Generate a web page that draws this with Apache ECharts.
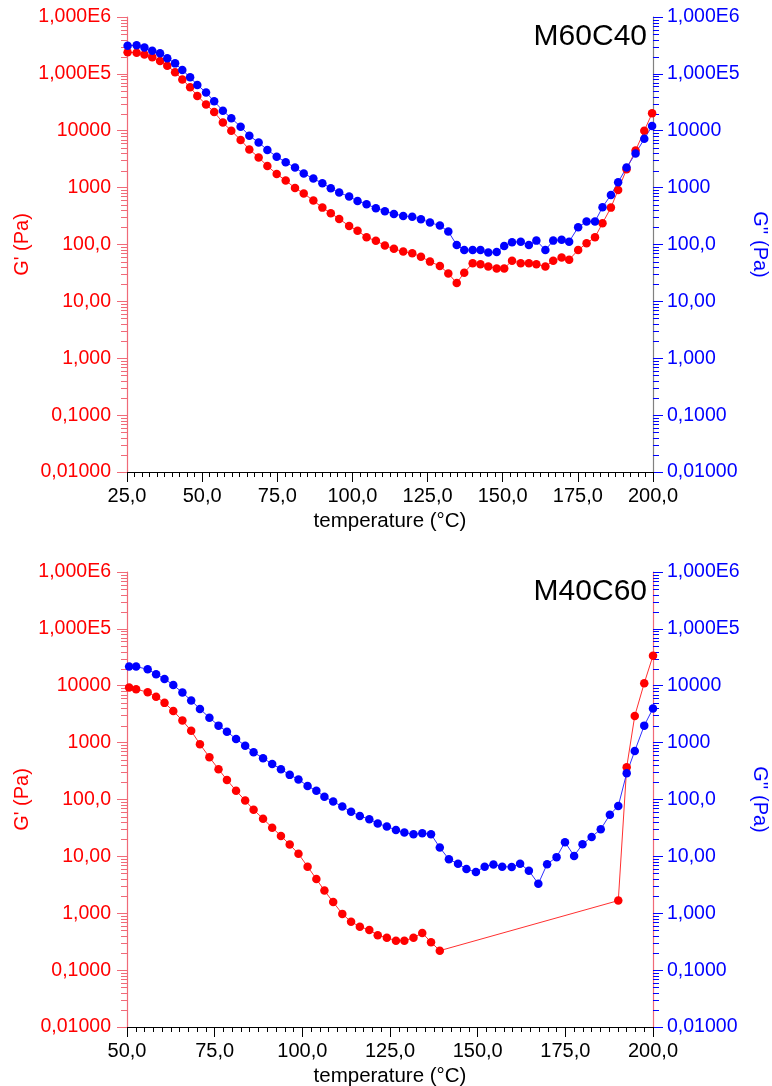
<!DOCTYPE html>
<html>
<head>
<meta charset="utf-8">
<script src="https://cdn.jsdelivr.net/npm/echarts@6/dist/echarts.min.js"></script>
<style>
  html, body { margin: 0; padding: 0; background: #fff; }
  #chart { width: 772px; height: 1086px; }
</style>
</head>
<body>
<div id="chart"></div>
<script>
// ---- M60C40: temperature sweep (°C), storage modulus G' and loss modulus G'' (Pa)
const topTemp = [25.2, 28.2, 30.8, 33.4, 36.0, 38.4, 41.0, 43.4, 46.0, 48.4, 51.3, 54.0, 56.9, 59.7, 62.8, 65.7,
  68.8, 71.7, 74.8, 77.8, 80.9, 83.8, 87.0, 90.0, 92.8, 95.6, 98.9, 101.7, 104.7, 107.8, 110.8, 113.8, 116.9,
  119.9, 122.8, 125.8, 129.1, 131.9, 134.7, 137.2, 140.0, 142.6, 145.2, 148.0, 150.5, 153.1, 156.0, 158.7,
  161.2, 164.2, 166.8, 169.6, 172.1, 175.1, 177.9, 180.7, 183.2, 186.0, 188.4, 191.2, 194.2, 197.1, 199.7];
const topGp = [240000, 236000, 220000, 196000, 169000, 139000, 107000, 80000, 58000, 41000, 29000, 21400, 13900,
  10000, 6900, 4700, 3400, 2400, 1740, 1330, 988, 790, 591, 445, 355, 282, 212, 175, 134, 116, 96, 84, 75, 70,
  61, 50, 42, 31, 21, 32, 47, 45, 41, 38, 38, 52, 47, 47, 45, 41, 52, 59, 54, 80, 105, 134, 237, 445, 912, 2100,
  4500, 10000, 20300];
const topGpp = [313000, 320000, 290000, 256000, 230000, 188000, 153000, 117000, 87000, 64000, 47000, 33000, 22500,
  16600, 11800, 8200, 6200, 4600, 3500, 2800, 2250, 1770, 1440, 1190, 975, 817, 695, 584, 511, 434, 385, 345,
  318, 309, 278, 243, 215, 169, 98, 80, 80, 80, 72, 74, 94, 110, 112, 98, 117, 80, 117, 121, 112, 201, 253,
  253, 453, 745, 1245, 2250, 4000, 7200, 12100];

// ---- M40C60
const botTempGp = [50.6, 52.6, 55.9, 58.3, 60.7, 63.2, 65.8, 68.3, 70.8, 73.5, 76.1, 78.5, 81.1, 83.7, 86.1, 88.8,
  91.4, 93.9, 96.4, 98.9, 101.5, 104.0, 106.3, 108.8, 111.4, 113.9, 116.4, 119.1, 121.5, 124.1, 126.7, 129.1,
  131.7, 134.2, 136.7, 139.2, 190.1, 192.5, 194.8, 197.5, 200.0];
const botGp = [9300, 8700, 7700, 6400, 5000, 3600, 2440, 1610, 938, 554, 341, 221, 143, 96, 66, 46, 32, 22.9,
  16.1, 11.1, 6.6, 4.0, 2.5, 1.57, 0.975, 0.71, 0.58, 0.51, 0.41, 0.37, 0.33, 0.33, 0.37, 0.45, 0.31, 0.22,
  1.67, 370, 2950, 11100, 33800];
const botTempGpp = [50.6, 52.6, 55.9, 58.3, 60.7, 63.2, 65.8, 68.3, 70.8, 73.5, 76.1, 78.5, 81.1, 83.7, 86.1, 88.8,
  91.4, 93.9, 96.4, 98.9, 101.5, 104.0, 106.3, 108.8, 111.4, 113.9, 116.4, 119.1, 121.5, 124.1, 126.7, 129.1,
  131.7, 134.2, 136.7, 139.2, 141.8, 144.4, 146.8, 149.5, 152.0, 154.5, 157.0, 159.7, 162.1, 164.6, 167.3,
  169.8, 172.5, 174.9, 177.5, 179.9, 182.5, 185.1, 187.7, 190.1, 192.5, 194.8, 197.5, 200.0];
const botGpp = [21700, 21700, 19500, 15900, 13200, 10300, 7600, 5500, 3900, 2750, 1990, 1560, 1160, 885, 678, 532,
  422, 341, 271, 225, 173, 142, 112, 92, 75, 61, 51.5, 45, 38, 33.4, 29.2, 26.2, 24.5, 25.6, 24.5, 14.3, 8.9,
  7.4, 6.0, 5.3, 6.6, 7.2, 6.6, 6.5, 7.4, 5.6, 3.3, 7.3, 9.7, 17.8, 10.2, 16.4, 22, 30, 54, 77, 290, 714,
  1990, 4000];

// ---- axis tick labels
const modulusLabels = ['0,01000', '0,1000', '1,000', '10,00', '100,0', '1000', '10000', '1,000E5', '1,000E6'];
const topTempLabels = ['25,0', '50,0', '75,0', '100,0', '125,0', '150,0', '175,0', '200,0'];
const botTempLabels = ['50,0', '75,0', '100,0', '125,0', '150,0', '175,0', '200,0'];
const titles = ['M60C40', 'M40C60'];

const FONT = "'Liberation Sans', Arial, sans-serif";
const RED = '#ff0000', BLUE = '#0000ff', PINK = '#f06a78';
const GRID_LEFT = 127, GRID_W = 526, GRID_H = 455;
const gridTops = [17, 572];

const pairs = (xs, ys) => xs.map((x, i) => [x, ys[i]]);

// decade minor ticks at 2..9 x 10^k, placed through the log axis
const minorVals = [];
for (let k = -2; k < 6; k++) for (let m = 2; m <= 9; m++) minorVals.push(m * Math.pow(10, k));

function modulusLabel(v) {
  const i = Math.round(Math.log10(v)) + 2;
  return modulusLabels[i] !== undefined ? modulusLabels[i] : '';
}

function xAxisFor(idx, min, labels) {
  return {
    type: 'value', gridIndex: idx, min: min, max: 200, interval: 25,
    axisLine: { show: true, lineStyle: { color: '#000', width: 1 } },
    axisTick: { show: true, inside: false, length: 10, lineStyle: { color: '#000' } },
    minorTick: { show: true, splitNumber: 10, length: 5, lineStyle: { color: '#000' } },
    splitLine: { show: false }, minorSplitLine: { show: false },
    axisLabel: {
      color: '#000', fontFamily: FONT, fontSize: 20, margin: 14,
      formatter: v => labels[Math.round((v - min) / 25)] || ''
    },
    name: 'temperature (°C)', nameLocation: 'middle', nameGap: 39,
    nameTextStyle: { color: '#000', fontFamily: FONT, fontSize: 20.5 }
  };
}

function yAxisFor(idx, side, rightLine) {
  const left = side === 'left';
  const col = left ? RED : BLUE;
  return {
    type: 'log', logBase: 10, gridIndex: idx, position: side, min: 0.01, max: 1e6,
    axisLine: { show: true, onZero: false, lineStyle: { color: left ? PINK : rightLine, width: 1.2 } },
    axisTick: { show: true, inside: false, length: 10, lineStyle: { color: left ? PINK : BLUE } },
    splitLine: { show: false },
    axisLabel: { color: col, fontFamily: FONT, fontSize: 19.5, margin: left ? 16 : 14, formatter: modulusLabel },
    name: left ? "G' (Pa)" : "G'' (Pa)", nameLocation: 'middle', nameMoveOverlap: false,
    nameRotate: left ? 90 : -90, nameGap: left ? 95 : 97,
    nameTextStyle: { color: col, fontFamily: FONT, fontSize: 20 }
  };
}

function minorTickSeries(xIdx, yIdx, xVal, dir, color) {
  return {
    type: 'custom', xAxisIndex: xIdx, yAxisIndex: yIdx, silent: true, clip: false, z: 1,
    renderItem: (params, api) => {
      const p = api.coord([api.value(0), api.value(1)]);
      const y = Math.round(p[1]) + 0.5;
      return {
        type: 'line',
        shape: { x1: p[0], y1: y, x2: p[0] + dir * 6, y2: y },
        style: { stroke: color, lineWidth: 1 }
      };
    },
    data: minorVals.map(v => [xVal, v])
  };
}

function lineSeries(xIdx, yIdx, data, color, lineColor) {
  return {
    type: 'line', xAxisIndex: xIdx, yAxisIndex: yIdx, data: data,
    symbol: 'circle', symbolSize: 8.5, showSymbol: true,
    itemStyle: { color: color, borderWidth: 0 },
    lineStyle: { color: lineColor, width: 1 },
    z: 3
  };
}

const option = {
  animation: false,
  backgroundColor: '#fff',
  title: titles.map((t, i) => ({
    text: t, right: 120, top: gridTops[i],
    textStyle: { color: '#000', fontFamily: FONT, fontSize: 30, fontWeight: 'normal' }
  })),
  grid: gridTops.map(t => ({
    left: GRID_LEFT, top: t, width: GRID_W, height: GRID_H,
    containLabel: false, outerBoundsMode: 'none'
  })),
  xAxis: [xAxisFor(0, 25, topTempLabels), xAxisFor(1, 50, botTempLabels)],
  yAxis: [
    yAxisFor(0, 'left'), yAxisFor(0, 'right', '#808080'),
    yAxisFor(1, 'left'), yAxisFor(1, 'right', PINK)
  ],
  series: [
    minorTickSeries(0, 0, 25, -1, PINK),
    minorTickSeries(0, 1, 200, 1, BLUE),
    minorTickSeries(1, 2, 50, -1, PINK),
    minorTickSeries(1, 3, 200, 1, BLUE),
    lineSeries(0, 0, pairs(topTemp, topGp), RED, '#ff3030'),
    lineSeries(0, 1, pairs(topTemp, topGpp), BLUE, '#3030ff'),
    lineSeries(1, 2, pairs(botTempGp, botGp), RED, '#ff3030'),
    lineSeries(1, 3, pairs(botTempGpp, botGpp), BLUE, '#3030ff')
  ]
};

const chart = echarts.init(document.getElementById('chart'), null, { renderer: 'canvas' });
chart.setOption(option);
</script>
</body>
</html>
